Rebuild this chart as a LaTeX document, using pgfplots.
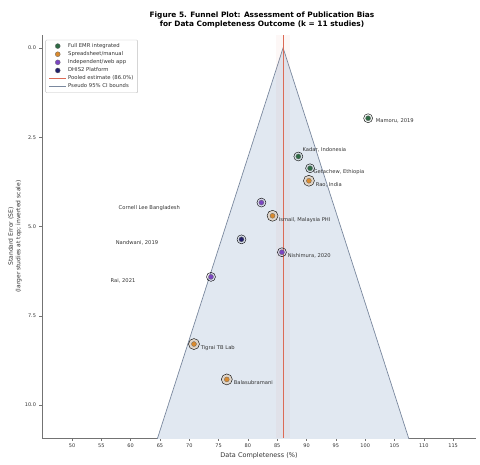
\documentclass[border=0pt]{standalone}
\usepackage{pgfplots}
\pgfplotsset{compat=1.18}
\usepackage{fontspec}
\setmainfont{DejaVu Sans}
\definecolor{cgreen}{HTML}{2E6B45}
\definecolor{corange}{HTML}{D98A2E}
\definecolor{cpurple}{HTML}{7B45C2}
\definecolor{cnavy}{HTML}{22206B}
\definecolor{cfun}{HTML}{E1E8F1}
\definecolor{cfunedge}{HTML}{7A889E}
\definecolor{cpool}{HTML}{DC6A55}
\definecolor{ctext}{HTML}{333333}
\begin{document}
\begin{tikzpicture}
\useasboundingbox (0pt,0pt) rectangle (480pt,464pt);
\node[font=\fontsize{7.4}{9}\selectfont\bfseries, align=center, text=black] at (262pt,444.5pt)
  {Figure 5. Funnel Plot: Assessment of Publication Bias\\for Data Completeness Outcome  (k = 11 studies)};
\begin{axis}[
  at={(259pt,227.5pt)}, anchor=center,
  scale only axis, width=434pt, height=403pt,
  xmin=44.88, xmax=118.9, ymin=-0.36, ymax=10.92,
  y dir=reverse,
  axis x line*=bottom, axis y line*=left,
  axis line style={black!55, line width=0.5pt},
  xtick={50,55,...,115},
  ytick={0,2.5,5,7.5,10},
  tick align=outside, tick style={black!55, line width=0.4pt},
  major tick length=2.5pt,
  /pgf/number format/assume math mode=true,
  yticklabel style={/pgf/number format/fixed, /pgf/number format/fixed zerofill, /pgf/number format/precision=1, font=\fontsize{5}{6}\selectfont, text=ctext},
  xticklabel style={font=\fontsize{5}{6}\selectfont, text=ctext},
  xlabel={Data Completeness (\%)},
  xlabel style={font=\fontsize{6.5}{8}\selectfont, text=ctext, at={(axis description cs:0.5,-0.045)}, anchor=center},
  ylabel={Standard Error (SE)\\(larger studies at top; inverted scale)},
  ylabel style={font=\fontsize{6}{7.5}\selectfont, text=ctext, align=center, at={(axis description cs:-0.062,0.5)}, anchor=center, rotate=0},
  legend style={at={(axis description cs:0.008,0.988)}, anchor=north west,
    font=\fontsize{5.3}{5.8}\selectfont, draw=black!25, fill=white, rounded corners=1pt,
    nodes={inner sep=1.3pt, text=ctext}, row sep=0pt},
  legend cell align=left,
  clip=true,
]
% funnel
\addplot[fill=cfun, draw=cfunedge, line width=0.7pt, forget plot] coordinates {(63.46,11.5) (86.0,0) (108.54,11.5)};
% pooled CI band
\addplot[fill=cpool, fill opacity=0.05, draw=none, forget plot] coordinates {(84.8,-0.36) (87.2,-0.36) (87.2,10.92) (84.8,10.92)};
% pooled line
\addplot[cpool, line width=1.1pt, forget plot] coordinates {(86.0,-0.36) (86.0,10.92)};
% halos
\addplot[only marks, mark=*, mark size=4.5pt, mark options={fill=cgreen, draw=none, fill opacity=0.07}, forget plot] coordinates {(100.5,1.97) (88.6,3.04) (90.6,3.37)};
\addplot[only marks, mark=*, mark size=5.5pt, mark options={fill=corange, draw=none, fill opacity=0.2}, forget plot] coordinates {(90.4,3.72) (84.2,4.70) (70.8,8.29) (76.4,9.28)};
\addplot[only marks, mark=*, mark size=4.5pt, mark options={fill=cpurple, draw=none, fill opacity=0.1}, forget plot] coordinates {(82.3,4.33) (85.8,5.72) (73.7,6.41)};
\addplot[only marks, mark=*, mark size=4.5pt, mark options={fill=cnavy, draw=none, fill opacity=0.06}, forget plot] coordinates {(78.9,5.36)};
% points
\addplot[only marks, mark=*, mark size=2.5pt, mark options={fill=cgreen, draw=black!60, line width=0.3pt}] coordinates {(100.5,1.97) (88.6,3.04) (90.6,3.37)};
\addlegendentry{Full EMR integrated}
\addplot[only marks, mark=*, mark size=2.5pt, mark options={fill=corange, draw=black!60, line width=0.3pt}] coordinates {(90.4,3.72) (84.2,4.70) (70.8,8.29) (76.4,9.28)};
\addlegendentry{Spreadsheet/manual}
\addplot[only marks, mark=*, mark size=2.5pt, mark options={fill=cpurple, draw=black!60, line width=0.3pt}] coordinates {(82.3,4.33) (85.8,5.72) (73.7,6.41)};
\addlegendentry{Independent/web app}
\addplot[only marks, mark=*, mark size=2.5pt, mark options={fill=cnavy, draw=black!60, line width=0.3pt}] coordinates {(78.9,5.36)};
\addlegendentry{DHIS2 Platform}
\addlegendimage{cpool, line width=1.1pt}
\addlegendentry{Pooled estimate (86.0\%)}
\addlegendimage{cfunedge, line width=0.7pt}
\addlegendentry{Pseudo 95\% CI bounds}
% labels
\begin{scope}[every node/.style={font=\fontsize{5.2}{6}\selectfont, text=ctext, anchor=west, inner sep=0.5pt}]
\node at (axis cs:101.7,2.04) {Mamoru, 2019};
\node at (axis cs:89.2,2.84) {Kadar, Indonesia};
\node at (axis cs:91.1,3.47) {Getachew, Ethiopia};
\node at (axis cs:91.45,3.84) {Rao, India};
\node at (axis cs:57.85,4.48) {Cornell Lee Bangladesh};
\node at (axis cs:85.14,4.82) {Ismail, Malaysia PHI};
\node at (axis cs:57.34,5.47) {Nandwani, 2019};
\node at (axis cs:86.68,5.82) {Nishimura, 2020};
\node at (axis cs:56.48,6.53) {Rai, 2021};
\node at (axis cs:71.84,8.40) {Tigrai TB Lab};
\node at (axis cs:77.47,9.36) {Balasubramani};
\end{scope}
\end{axis}
\end{tikzpicture}
\end{document}
